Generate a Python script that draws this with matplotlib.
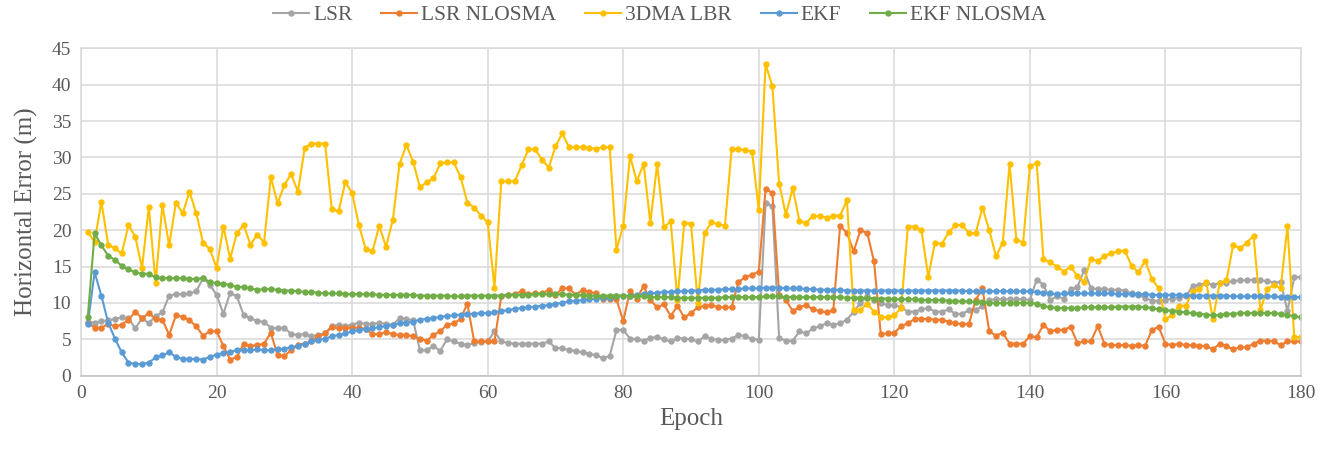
import numpy as np
import matplotlib
matplotlib.use("Agg")
import matplotlib.pyplot as plt

plt.rcParams['font.family'] = ['Liberation Serif', 'DejaVu Serif']

epochs = np.arange(1, 181)

lsr = [
    7.4, 7.3, 7.5, 7.6, 7.8, 8.0, 7.9, 6.5, 7.9, 7.2,
    8.2, 8.7, 11.0, 11.2, 11.2, 11.3, 11.6, 13.4, 12.5, 11.1,
    8.5, 11.4, 10.9, 8.3, 7.9, 7.5, 7.4, 6.6, 6.5, 6.6,
    5.7, 5.6, 5.7, 5.4, 5.6, 5.8, 6.8, 7.0, 6.8, 7.0,
    7.3, 7.1, 7.1, 7.3, 7.1, 7.0, 7.9, 7.8, 7.6, 3.5,
    3.5, 4.1, 3.4, 5.0, 4.7, 4.4, 4.2, 4.5, 4.6, 4.7,
    6.1, 4.7, 4.5, 4.4, 4.4, 4.4, 4.4, 4.4, 4.7, 3.8,
    3.8, 3.5, 3.4, 3.2, 3.0, 2.8, 2.4, 2.7, 6.3, 6.3,
    5.1, 5.0, 4.8, 5.2, 5.3, 5.0, 4.7, 5.2, 5.1, 5.0,
    4.7, 5.4, 5.1, 4.9, 4.9, 5.1, 5.6, 5.4, 5.1, 4.9,
    23.7, 23.3, 5.2, 4.8, 4.8, 6.1, 5.8, 6.5, 6.8, 7.2,
    7.0, 7.2, 7.7, 8.8, 10.0, 10.9, 10.4, 10.0, 9.7, 9.7,
    9.4, 8.8, 8.8, 9.1, 9.3, 8.8, 8.8, 9.1, 8.5, 8.5,
    9.0, 9.0, 9.6, 10.4, 10.5, 10.5, 10.5, 10.5, 10.5, 10.4,
    13.2, 12.5, 10.4, 10.9, 10.6, 11.9, 12.2, 14.5, 12.0, 11.9,
    11.9, 11.8, 11.8, 11.7, 11.3, 11.1, 10.7, 10.3, 10.3, 10.4,
    10.6, 10.7, 10.9, 12.3, 12.5, 12.7, 12.5, 12.7, 12.8, 13.0,
    13.1, 13.1, 13.2, 13.1, 13.0, 12.8, 12.9, 8.9, 13.5, 13.6,
]

lsr_nlosma = [
    7.3, 6.6, 6.6, 7.1, 6.8, 7.0, 7.7, 8.8, 7.9, 8.6,
    7.8, 7.7, 5.6, 8.3, 8.1, 7.6, 6.8, 5.5, 6.1, 6.1,
    4.1, 2.2, 2.6, 4.4, 4.1, 4.2, 4.4, 5.9, 2.8, 2.7,
    3.5, 4.2, 4.4, 4.7, 5.4, 5.8, 6.7, 6.5, 6.6, 6.6,
    6.6, 6.4, 5.7, 5.7, 6.0, 5.7, 5.6, 5.6, 5.4, 5.1,
    4.8, 5.6, 6.1, 7.0, 7.2, 7.8, 9.9, 4.7, 4.7, 4.7,
    4.7, 10.9, 11.1, 11.2, 11.6, 11.2, 11.3, 11.3, 11.8, 11.1,
    12.0, 12.0, 11.1, 11.8, 11.5, 11.3, 10.5, 10.6, 10.5, 7.5,
    11.7, 10.6, 12.3, 10.4, 9.4, 9.8, 8.2, 9.6, 8.0, 8.6,
    9.4, 9.6, 9.7, 9.4, 9.4, 9.4, 12.9, 13.5, 13.9, 14.3,
    25.7, 25.1, 11.1, 10.4, 8.9, 9.4, 9.7, 9.1, 8.9, 8.7,
    9.0, 20.6, 19.6, 17.1, 20.0, 19.6, 15.7, 5.7, 5.8, 5.9,
    6.8, 7.2, 7.8, 7.8, 7.8, 7.7, 7.7, 7.4, 7.2, 7.1,
    7.1, 10.4, 12.0, 6.1, 5.5, 5.9, 4.4, 4.4, 4.4, 5.4,
    5.3, 7.0, 6.1, 6.3, 6.3, 6.7, 4.5, 4.7, 4.7, 6.8,
    4.4, 4.2, 4.2, 4.2, 4.1, 4.2, 4.1, 6.3, 6.7, 4.4,
    4.2, 4.4, 4.2, 4.2, 4.1, 4.1, 3.6, 4.4, 4.1, 3.6,
    3.9, 3.9, 4.4, 4.8, 4.8, 4.7, 4.2, 4.7, 4.7, 4.7,
]

dma_lbr = [
    19.7, 18.4, 23.9, 18.0, 17.5, 16.8, 20.7, 19.1, 14.8, 23.2,
    12.7, 23.5, 17.9, 23.8, 22.3, 25.3, 22.3, 18.3, 17.4, 14.8,
    20.5, 16.1, 19.6, 20.7, 18.0, 19.4, 18.3, 27.3, 23.7, 26.2,
    27.7, 25.3, 31.3, 31.9, 31.9, 31.9, 22.9, 22.6, 26.6, 25.1,
    20.7, 17.4, 17.1, 20.6, 17.7, 21.4, 29.1, 31.7, 29.4, 25.9,
    26.6, 27.1, 29.2, 29.3, 29.3, 27.3, 23.8, 23.1, 22.0, 21.1,
    12.1, 26.7, 26.7, 26.7, 28.9, 31.1, 31.1, 29.7, 28.6, 31.5,
    33.3, 31.4, 31.4, 31.4, 31.3, 31.2, 31.4, 31.4, 17.3, 20.6,
    30.2, 26.7, 29.1, 21.0, 29.1, 20.4, 21.2, 10.4, 21.0, 20.9,
    10.0, 19.6, 21.1, 20.8, 20.6, 31.2, 31.1, 31.0, 30.8, 22.8,
    42.8, 39.8, 26.4, 22.1, 25.8, 21.2, 21.0, 22.0, 21.9, 21.7,
    22.0, 22.0, 24.1, 9.0, 9.0, 9.9, 8.8, 8.1, 8.0, 8.3,
    9.3, 20.5, 20.5, 20.0, 13.6, 18.3, 18.1, 19.7, 20.7, 20.7,
    19.6, 19.6, 23.1, 20.0, 16.4, 18.3, 29.1, 18.7, 18.3, 28.8,
    29.2, 16.0, 15.6, 15.0, 14.3, 15.0, 13.7, 12.9, 16.1, 15.7,
    16.5, 16.8, 17.1, 17.2, 15.1, 14.2, 15.8, 13.3, 12.0, 7.8,
    8.3, 9.6, 9.6, 11.6, 11.9, 12.9, 7.8, 12.7, 13.1, 18.0,
    17.5, 18.3, 19.2, 9.0, 11.9, 12.5, 12.0, 20.6, 5.3, 5.3,
]

ekf = [
    7.1, 14.2, 11.0, 7.3, 5.1, 3.2, 1.8, 1.6, 1.6, 1.8,
    2.5, 2.8, 3.2, 2.6, 2.3, 2.3, 2.3, 2.2, 2.6, 2.9,
    3.1, 3.3, 3.5, 3.5, 3.5, 3.6, 3.5, 3.5, 3.6, 3.7,
    3.9, 4.1, 4.4, 4.7, 4.9, 5.1, 5.4, 5.6, 5.8, 6.1,
    6.3, 6.4, 6.5, 6.7, 6.8, 7.0, 7.2, 7.3, 7.4, 7.7,
    7.8, 7.9, 8.1, 8.2, 8.3, 8.4, 8.5, 8.5, 8.6, 8.6,
    8.7, 8.9, 9.0, 9.2, 9.3, 9.4, 9.5, 9.6, 9.7, 9.9,
    10.0, 10.2, 10.3, 10.4, 10.5, 10.6, 10.7, 10.7, 10.9, 11.0,
    11.0, 11.1, 11.2, 11.3, 11.4, 11.5, 11.5, 11.6, 11.6, 11.7,
    11.7, 11.8, 11.8, 11.8, 11.9, 11.9, 11.9, 12.0, 12.0, 12.0,
    12.1, 12.1, 12.1, 12.0, 12.0, 12.0, 11.9, 11.9, 11.8, 11.8,
    11.8, 11.8, 11.7, 11.7, 11.7, 11.7, 11.7, 11.7, 11.7, 11.7,
    11.7, 11.7, 11.7, 11.7, 11.7, 11.7, 11.7, 11.7, 11.7, 11.7,
    11.6, 11.6, 11.6, 11.6, 11.6, 11.6, 11.6, 11.6, 11.6, 11.6,
    11.5, 11.4, 11.3, 11.2, 11.3, 11.3, 11.3, 11.3, 11.3, 11.3,
    11.3, 11.3, 11.2, 11.2, 11.2, 11.2, 11.2, 11.1, 11.1, 11.1,
    11.1, 11.1, 11.1, 11.0, 11.0, 11.0, 11.0, 11.0, 11.0, 10.9,
    10.9, 10.9, 10.9, 10.9, 10.9, 10.9, 10.8, 10.8, 10.8, 10.8,
]

ekf_nlosma = [
    8.1, 19.6, 17.9, 16.5, 15.9, 15.1, 14.6, 14.2, 14.0, 14.0,
    13.5, 13.4, 13.4, 13.4, 13.4, 13.3, 13.3, 13.4, 12.9, 12.7,
    12.6, 12.5, 12.2, 12.2, 12.0, 11.8, 11.9, 11.9, 11.8, 11.7,
    11.7, 11.6, 11.5, 11.5, 11.4, 11.3, 11.3, 11.3, 11.2, 11.2,
    11.2, 11.2, 11.2, 11.1, 11.1, 11.1, 11.1, 11.1, 11.1, 11.0,
    11.0, 11.0, 11.0, 11.0, 10.9, 10.9, 11.0, 11.0, 11.0, 11.0,
    11.0, 11.0, 11.1, 11.1, 11.1, 11.1, 11.2, 11.2, 11.2, 11.2,
    11.2, 11.1, 11.1, 11.1, 11.0, 11.0, 11.0, 11.0, 11.0, 11.0,
    10.9, 10.9, 10.9, 10.8, 10.8, 10.8, 10.8, 10.7, 10.7, 10.7,
    10.7, 10.7, 10.7, 10.7, 10.8, 10.8, 10.8, 10.8, 10.8, 10.8,
    10.9, 10.9, 10.9, 10.8, 10.8, 10.8, 10.8, 10.8, 10.8, 10.8,
    10.8, 10.8, 10.7, 10.7, 10.7, 10.7, 10.6, 10.6, 10.6, 10.5,
    10.5, 10.5, 10.5, 10.4, 10.4, 10.4, 10.4, 10.3, 10.3, 10.2,
    10.2, 10.1, 10.1, 10.0, 10.0, 10.0, 10.0, 10.0, 10.0, 10.0,
    9.9, 9.6, 9.4, 9.3, 9.3, 9.3, 9.3, 9.4, 9.4, 9.4,
    9.4, 9.4, 9.5, 9.5, 9.5, 9.5, 9.4, 9.3, 9.1, 9.0,
    8.9, 8.8, 8.7, 8.6, 8.5, 8.4, 8.3, 8.3, 8.5, 8.5,
    8.6, 8.6, 8.6, 8.6, 8.6, 8.6, 8.5, 8.3, 8.2, 8.0,
]

series = [
    ("LSR", lsr, "#A5A5A5"),
    ("LSR NLOSMA", lsr_nlosma, "#ED7D31"),
    ("3DMA LBR", dma_lbr, "#FFC000"),
    ("EKF", ekf, "#5B9BD5"),
    ("EKF NLOSMA", ekf_nlosma, "#70AD47"),
]

text_color = "#595959"
grid_color = "#D9D9D9"

fig = plt.figure(figsize=(13.33, 4.51), dpi=100)
ax = fig.add_axes([0.0608, 0.167, 0.9152, 0.726])

for name, vals, col in series:
    ax.plot(epochs, vals, color=col, lw=1.5, marker="o", markersize=4.6,
            markeredgewidth=0, label=name)

ax.set_xlim(0, 180)
ax.set_ylim(0, 45)
ax.set_xticks(np.arange(0, 181, 20))
ax.set_yticks(np.arange(0, 46, 5))
ax.grid(True, color=grid_color, lw=1.1)
ax.set_axisbelow(True)
for s in ax.spines.values():
    s.set_color(grid_color)
    s.set_linewidth(1.1)
ax.spines["bottom"].set_color("#BFBFBF")
ax.tick_params(length=0, labelsize=14, colors=text_color, pad=7)

ax.set_xlabel("Epoch", fontsize=18, color=text_color, labelpad=4)
ax.set_ylabel("Horizontal Error (m)", fontsize=18, color=text_color, labelpad=10)

fig.legend(loc="center", bbox_to_anchor=(0.495, 0.966), ncol=5, frameon=False,
           fontsize=15.5, handlelength=1.65, columnspacing=1.35, handletextpad=0.2,
           labelcolor=text_color)

fig.savefig("out.png", dpi=100)
